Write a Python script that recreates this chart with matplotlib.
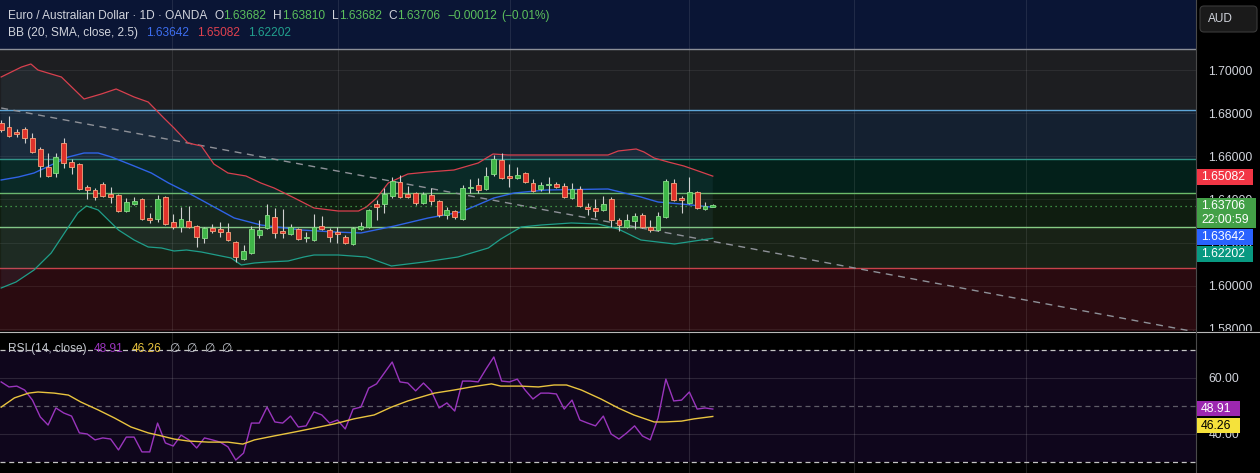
import numpy as np
import matplotlib
matplotlib.use('Agg')
import matplotlib.pyplot as plt
from matplotlib.patches import Rectangle, FancyBboxPatch
from matplotlib.transforms import IdentityTransform

plt.rcParams['font.family'] = ['Liberation Sans', 'DejaVu Sans']

W, H = 1260, 473
AXIS_X = 1196   # left edge of price scale strip (px)
PANE_Y = 331    # bottom of the price pane (px from top)

# ---------------- data ----------------
opens = [1.67544, 1.67359, 1.67127, 1.67266, 1.66849, 1.66339, 1.65506, 1.65227, 1.66617, 1.65737,
         1.65644, 1.64579, 1.64439, 1.64717, 1.64254, 1.64208, 1.63466, 1.63790, 1.64022, 1.63142,
         1.63096, 1.64115, 1.62956, 1.62725, 1.63003, 1.62771, 1.62215, 1.62678, 1.62632, 1.62493,
         1.62029, 1.61242, 1.61520, 1.62354, 1.62678, 1.63188, 1.62539, 1.62400, 1.62632, 1.62215,
         1.62122, 1.62771, 1.62586, 1.62493, 1.62261, 1.61937, 1.62632, 1.62725, 1.63790, 1.63790,
         1.64161, 1.64810, 1.64254, 1.64300, 1.63837, 1.64208, 1.63929, 1.63281, 1.63466, 1.63096,
         1.64532, 1.64671, 1.64486, 1.65181, 1.65830, 1.65088, 1.64995, 1.65227, 1.64764, 1.64486,
         1.64671, 1.64717, 1.64625, 1.64068, 1.64486, 1.63652, 1.63605, 1.63513, 1.64022, 1.63049,
         1.62725, 1.63003, 1.63281, 1.62725, 1.62586, 1.63188, 1.64764, 1.64068, 1.63837, 1.64346,
         1.63559, 1.63682]
highs = [1.67683, 1.67869, 1.67266, 1.67359, 1.67081, 1.66432, 1.66154, 1.66154, 1.66849, 1.65876,
         1.65691, 1.64671, 1.64532, 1.64810, 1.64579, 1.64254, 1.64068, 1.64115, 1.64068, 1.63374,
         1.64208, 1.64161, 1.63327, 1.63652, 1.63698, 1.62818, 1.62725, 1.62864, 1.62956, 1.62910,
         1.62076, 1.61890, 1.62771, 1.63049, 1.63790, 1.63605, 1.63559, 1.62864, 1.62678, 1.62493,
         1.63327, 1.63235, 1.62678, 1.62725, 1.62354, 1.62725, 1.62956, 1.63559, 1.63976, 1.64532,
         1.65042, 1.65134, 1.64625, 1.64346, 1.64346, 1.64532, 1.63976, 1.63652, 1.63513, 1.64671,
         1.64949, 1.64995, 1.65506, 1.66061, 1.66154, 1.65644, 1.65506, 1.65274, 1.64949, 1.64810,
         1.65042, 1.64810, 1.64764, 1.64764, 1.64625, 1.63837, 1.64022, 1.64161, 1.64115, 1.63142,
         1.63327, 1.63374, 1.63374, 1.63049, 1.63420, 1.64949, 1.64949, 1.64161, 1.65042, 1.64393,
         1.63883, 1.63810]
lows = [1.67127, 1.66896, 1.66896, 1.66617, 1.66154, 1.65042, 1.65042, 1.65042, 1.65459, 1.65181,
        1.64439, 1.64022, 1.63976, 1.64115, 1.63837, 1.63420, 1.63420, 1.63744, 1.63049, 1.62910,
        1.62956, 1.62818, 1.62632, 1.62493, 1.62678, 1.61798, 1.61983, 1.62447, 1.62261, 1.62076,
        1.61103, 1.61196, 1.61474, 1.62215, 1.62632, 1.62215, 1.62215, 1.62354, 1.62122, 1.62029,
        1.62076, 1.62586, 1.62029, 1.61983, 1.61937, 1.61890, 1.62586, 1.62678, 1.63049, 1.63374,
        1.64068, 1.64068, 1.64068, 1.63744, 1.63790, 1.63744, 1.63188, 1.63096, 1.63096, 1.63049,
        1.64300, 1.64300, 1.64439, 1.65088, 1.64949, 1.64579, 1.64949, 1.64764, 1.64346, 1.64393,
        1.64300, 1.64532, 1.64068, 1.64022, 1.63652, 1.63281, 1.63188, 1.63466, 1.62725, 1.62539,
        1.62678, 1.62632, 1.62678, 1.62493, 1.62539, 1.63142, 1.63929, 1.63374, 1.63790, 1.63559,
        1.63513, 1.63682]
closes = [1.67220, 1.66942, 1.67035, 1.66849, 1.66200, 1.65552, 1.65088, 1.65969, 1.65691, 1.65506,
          1.64486, 1.64439, 1.64115, 1.64161, 1.64115, 1.63466, 1.63883, 1.63929, 1.63096, 1.63049,
          1.64022, 1.62864, 1.62725, 1.63096, 1.62725, 1.62261, 1.62678, 1.62539, 1.62493, 1.62122,
          1.61334, 1.61612, 1.62632, 1.62586, 1.63281, 1.62447, 1.62447, 1.62725, 1.62169, 1.62261,
          1.62725, 1.62632, 1.62261, 1.62400, 1.61983, 1.62678, 1.62771, 1.63513, 1.63652, 1.64254,
          1.64856, 1.64115, 1.64115, 1.63837, 1.64254, 1.63929, 1.63281, 1.63513, 1.63188, 1.64532,
          1.64579, 1.64439, 1.65088, 1.65876, 1.64995, 1.64995, 1.65134, 1.64810, 1.64393, 1.64671,
          1.64717, 1.64579, 1.64115, 1.64486, 1.63698, 1.63559, 1.63466, 1.63790, 1.63049, 1.62818,
          1.63049, 1.63235, 1.62725, 1.62586, 1.63235, 1.64856, 1.63976, 1.63976, 1.64346, 1.63605,
          1.63718, 1.63706]

# Bollinger bands, read at bar positions
bb_upper_idx = [0, 2.6, 3.8, 4.7, 6.4, 7.7, 10.6, 12.8, 14.7, 17.0, 18.8, 20.8, 22.1, 23.9, 25.6,
                27.2, 29.0, 31.3, 33.2, 34.9, 37.5, 40.0, 43.1, 45.7, 46.7, 48.0, 49.5, 52.0, 54.6,
                57.9, 61.0, 62.9, 64.8, 69.1, 73.3, 77.6, 78.9, 81.2, 82.2, 83.5, 85.3, 87.3, 89.5, 91.0]
bb_upper = [1.69676, 1.70139, 1.70278, 1.70000, 1.69815, 1.69676, 1.68656, 1.68888, 1.69120, 1.68749,
            1.68517, 1.67776, 1.67313, 1.66617, 1.66478, 1.65644, 1.65227, 1.65088, 1.64764, 1.64532,
            1.64068, 1.63605, 1.63466, 1.63466, 1.63652, 1.64068, 1.64764, 1.65181, 1.65274, 1.65366,
            1.65691, 1.66108, 1.66061, 1.66061, 1.66061, 1.66061, 1.66247, 1.66339, 1.66200, 1.65922,
            1.65737, 1.65552, 1.65274, 1.65082]
bb_mid_idx = [0, 2.2, 4.2, 6.4, 8.6, 10.6, 12.4, 14.1, 17.0, 19.2, 21.4, 23.7, 25.6, 29.8, 33.2,
              38.4, 42.6, 46.0, 50.3, 54.6, 58.8, 63.0, 65.6, 69.7, 77.6, 79.7, 81.8, 84.0, 87.0, 91.0]
bb_mid = [1.64903, 1.65042, 1.65227, 1.65598, 1.65969, 1.66154, 1.66154, 1.65969, 1.65552, 1.65227,
          1.64764, 1.64346, 1.63976, 1.63142, 1.62818, 1.62586, 1.62493, 1.62447, 1.62771, 1.63142,
          1.63420, 1.64068, 1.64300, 1.64439, 1.64486, 1.64300, 1.64115, 1.63883, 1.63790, 1.63642]
bb_lower_idx = [0, 1.9, 4.2, 6.4, 8.6, 9.8, 10.9, 12.4, 13.7, 15.0, 17.0, 18.8, 20.5, 22.1, 23.7,
                25.6, 29.4, 30.7, 32.4, 34.1, 36.7, 38.7, 40.0, 43.1, 46.7, 49.9, 54.1, 58.4, 62.3,
                63.9, 66.5, 69.1, 72.9, 76.3, 78.9, 81.8, 86.1, 91.0]
bb_lower = [1.59898, 1.60176, 1.60732, 1.61520, 1.62725, 1.63374, 1.63698, 1.63513, 1.63049, 1.62586,
            1.62122, 1.61798, 1.61752, 1.61612, 1.61659, 1.61566, 1.61288, 1.60964, 1.61057, 1.61103,
            1.61149, 1.61334, 1.61427, 1.61427, 1.61334, 1.60917, 1.61103, 1.61334, 1.61752, 1.62169,
            1.62725, 1.62818, 1.62910, 1.62864, 1.62632, 1.62122, 1.61937, 1.62202]

rsi = [58.6, 56.8, 57.1, 55.7, 52.1, 46.1, 43.2, 49.3, 47.5, 46.4,
       40.4, 40.0, 37.9, 38.6, 38.2, 34.3, 38.9, 38.9, 33.6, 33.6,
       43.9, 36.8, 35.7, 39.6, 37.9, 35.0, 38.6, 37.9, 37.1, 35.4,
       30.7, 33.2, 43.9, 43.9, 49.6, 44.3, 43.9, 46.4, 42.5, 42.9,
       47.9, 46.8, 43.9, 45.0, 41.8, 48.9, 49.6, 56.4, 57.9, 61.8,
       65.7, 58.6, 58.2, 55.4, 58.2, 55.4, 49.3, 51.1, 48.2, 58.9,
       58.9, 58.6, 63.2, 67.5, 58.9, 58.6, 59.6, 55.7, 52.5, 54.6,
       54.6, 54.3, 48.9, 52.1, 45.0, 43.9, 42.9, 46.4, 40.0, 38.2,
       40.4, 42.9, 39.3, 37.9, 45.7, 59.6, 51.8, 52.1, 55.0, 48.9,
       49.3, 48.91]
rsi_ma_idx = [0, 1.7, 3.5, 4.7, 6.8, 8.6, 10.2, 12.4, 14.5, 16.6, 18.8, 20.5, 22.1, 23.9, 26.5,
              29.0, 30.9, 32.4, 34.9, 37.5, 40.0, 42.6, 45.1, 47.7, 49.9, 52.0, 53.7, 55.4, 57.9,
              60.1, 62.7, 63.9, 66.5, 68.7, 70.7, 72.3, 74.2, 76.7, 78.9, 80.9, 83.5, 84.8, 87.0,
              88.6, 91.0]
rsi_ma = [49.6, 52.9, 54.6, 55.0, 54.6, 53.9, 51.4, 48.6, 45.7, 42.5, 40.4, 39.3, 38.2, 37.5, 37.1,
          37.1, 36.4, 37.9, 39.3, 40.7, 42.1, 43.6, 45.4, 46.8, 49.6, 51.8, 53.2, 54.6, 55.7, 56.8,
          57.9, 57.1, 57.1, 56.8, 57.5, 57.5, 55.7, 52.5, 49.3, 46.8, 44.3, 44.3, 44.6, 45.4, 46.26]

# drawings on the chart
zone_edges = [1.60825, 1.62725, 1.64300, 1.65876, 1.68147, 1.70973]
zone_fills = ['#2a0b10', '#182216', '#0f1d10', '#03201a', '#142030', '#1d1e21', '#0a1535']
zone_lines = ['#c8424b', '#86cc84', '#6cbb6a', '#2f9485', '#5ea6d8', '#8c8f98']
trend_idx = [0, 152.8]
trend_px = [1.68239, 1.57859]
month_idx = [21.9, 43.1, 65.1, 88.0, 109.1, 131.1]
price_ticks = [1.58, 1.60, 1.62, 1.64, 1.66, 1.68, 1.70]
rsi_ticks = [40, 60]
timer = '22:00:59'

# ---------------- figure ----------------
fig = plt.figure(figsize=(W / 100, H / 100), dpi=100, facecolor='#000000')
ax = fig.add_axes([0, (H - PANE_Y) / H, AXIS_X / W, PANE_Y / H], zorder=0)
rax = fig.add_axes([0, 0, AXIS_X / W, (H - PANE_Y - 2) / H], zorder=2)

BAR_PX = 7.82
xlim = (-0.15, AXIS_X / BAR_PX - 0.15)

# price pane
ax.set_facecolor('#000000')
ax.set_xlim(*xlim)
ax.set_ylim(1.57905, 1.73244)
lims = [ax.get_ylim()[0]] + zone_edges + [ax.get_ylim()[1]]
for lo, hi, c in zip(lims[:-1], lims[1:], zone_fills):
    ax.axhspan(lo, hi, color=c, lw=0, zorder=0.2)
for p in price_ticks:
    ax.axhline(p, color='#ffffff', alpha=0.07, lw=0.8, zorder=0.5)
for m in month_idx:
    ax.axvline(m, color='#ffffff', alpha=0.09, lw=0.8, zorder=0.5)
for e, c in zip(zone_edges, zone_lines):
    ax.axhline(e, color=c, lw=1.0, zorder=1)

ax.fill(np.r_[bb_upper_idx, bb_lower_idx[::-1]], np.r_[bb_upper, bb_lower[::-1]],
        color='#5b8fb0', alpha=0.09, lw=0, zorder=1.5)
ax.plot(trend_idx, trend_px, color='#8e9198', lw=1.0, ls=(0, (5, 4)), zorder=2)
ax.plot(bb_upper_idx, bb_upper, color='#d8404e', lw=0.9, zorder=3)
ax.plot(bb_mid_idx, bb_mid, color='#2f63e6', lw=1.0, zorder=3)
ax.plot(bb_lower_idx, bb_lower, color='#1f9e8a', lw=0.9, zorder=3)
ax.axhline(closes[-1], color='#4caf50', lw=0.9, ls=(0, (1, 3)), zorder=3.5)

o, h, l, c = map(np.array, (opens, highs, lows, closes))
x = np.arange(len(c))
up = c >= o
real = np.abs(c - o)
bh = np.maximum(real, 0.0006)
bottom = np.minimum(o, c) - (bh - real) / 2
ax.vlines(x, l, h, color='#cfcfcf', lw=0.8, zorder=4)
ax.bar(x[up], bh[up], bottom=bottom[up], width=0.62, color='#3fb548', edgecolor='#86dc86', lw=0.6, zorder=5)
ax.bar(x[~up], bh[~up], bottom=bottom[~up], width=0.62, color='#e0322b', edgecolor='#f6a57e', lw=0.6, zorder=5)

ax.set_xticks([])
ax.set_yticks(price_ticks)
ax.set_yticklabels(['%.5f' % p for p in price_ticks])
ax.yaxis.tick_right()
ax.tick_params(axis='y', length=0, pad=9, labelsize=8.8, labelcolor='#d1d4dc')
for s in ax.spines.values():
    s.set_visible(False)

# rsi pane
rax.set_facecolor('#000000')
rax.set_xlim(*xlim)
rax.set_ylim(26.07, 76.07)
rax.axhspan(30, 70, color='#0f061c', lw=0, zorder=0.2)
for t in rsi_ticks:
    rax.axhline(t, color='#ffffff', alpha=0.12, lw=0.8, zorder=0.5)
for m in month_idx:
    rax.axvline(m, color='#ffffff', alpha=0.12, lw=0.8, zorder=0.5)
rax.axhline(70, color='#c4c4c4', lw=0.9, ls=(0, (4, 3)), zorder=1)
rax.axhline(30, color='#c4c4c4', lw=0.9, ls=(0, (4, 3)), zorder=1)
rax.axhline(50, color='#5e5b66', lw=0.9, ls=(0, (4, 3)), zorder=1)
rax.plot(np.arange(len(rsi)), rsi, color='#9a35bd', lw=1.0, zorder=3)
rax.plot(rsi_ma_idx, rsi_ma, color='#e9c43f', lw=1.0, zorder=3)
rax.set_xticks([])
rax.set_yticks(rsi_ticks)
rax.set_yticklabels(['%.2f' % t for t in rsi_ticks])
rax.yaxis.tick_right()
rax.tick_params(axis='y', length=0, pad=9, labelsize=8.8, labelcolor='#d1d4dc')
for s in rax.spines.values():
    s.set_visible(False)

# cover the price-scale strip under the price pane so 1.58000 is cut like the original
fig.add_artist(Rectangle((AXIS_X, 0), W - AXIS_X, H - PANE_Y, transform=IdentityTransform(),
                         fc='#000000', ec='none', zorder=1))

# separators
fig.add_artist(plt.Line2D([0, W], [H - PANE_Y - 0.5] * 2, transform=IdentityTransform(),
                          color='#b8b8b8', lw=0.8, zorder=6))
fig.add_artist(plt.Line2D([AXIS_X, AXIS_X], [0, H], transform=IdentityTransform(),
                          color='#4a4a4a', lw=0.8, zorder=6))


def tag(axis, value, label, fc, tc='#ffffff', dy=0, w=56, h=16):
    # price-scale label box, dy in px (down positive)
    yd = axis.transData.transform((0, value))[1] - dy
    top = yd + 8
    fig.add_artist(Rectangle((AXIS_X + 1, top - h), w, h, transform=IdentityTransform(),
                             fc=fc, ec='none', zorder=7))
    for k, s in enumerate(label.split('\n')):
        fig.text(AXIS_X + 5, top - 8 - 14 * k, s, transform=IdentityTransform(), color=tc,
                 fontsize=8.8, va='center', ha='left', zorder=8)


tag(ax, bb_upper[-1], '%.5f' % bb_upper[-1], '#f23645', dy=1)
tag(ax, closes[-1], '%.5f\n%s' % (closes[-1], timer), '#43a047', dy=0, w=59, h=30)
tag(ax, bb_mid[-1], '%.5f' % bb_mid[-1], '#2962ff', dy=30)
tag(ax, bb_lower[-1], '%.5f' % bb_lower[-1], '#089981', dy=16)
tag(rax, rsi[-1], '%.2f' % rsi[-1], '#9c27b0', dy=0, w=43, h=15)
tag(rax, rsi_ma[-1], '%.2f' % rsi_ma[-1], '#f5e23b', tc='#000000', dy=10, w=43, h=15)

# currency box
fig.add_artist(FancyBboxPatch((AXIS_X + 4, H - 32), 57, 26, boxstyle='round,pad=0,rounding_size=4',
                              transform=IdentityTransform(), fc='#1a1a1a', ec='#3a3a3a', lw=0.8, zorder=7))
fig.text(AXIS_X + 12, H - 19, 'AUD', transform=IdentityTransform(), color='#d1d4dc',
         fontsize=8.5, va='center', ha='left', zorder=8)

renderer = fig.canvas.get_renderer()


def row(yp, pieces, xp=8, size=8.6):
    # legend row: each piece is (gap before it in px, text, colour)
    for gap, s, col in pieces:
        xp += gap
        t = fig.text(xp / W, 1 - yp / H, s, color=col, fontsize=size, va='center', ha='left', zorder=9)
        xp = t.get_window_extent(renderer).x1


grey = '#d1d4dc'
green = '#5cbf5c'
chg = closes[-1] - closes[-2]
pct = chg / closes[-2] * 100
row(16, [(0, 'Euro / Australian Dollar \u00b7 1D \u00b7 OANDA', grey),
         (7, 'O', grey), (0, '%.5f' % opens[-1], green),
         (7, 'H', grey), (0, '%.5f' % highs[-1], green),
         (7, 'L', grey), (0, '%.5f' % lows[-1], green),
         (7, 'C', grey), (0, '%.5f' % closes[-1], green),
         (7, ('%+.5f' % chg).replace('-', '\u2212'), green),
         (4, ('(%+.2f%%)' % pct).replace('-', '\u2212'), green)])
row(33, [(0, 'BB (20, SMA, close, 2.5)', grey),
         (8, '%.5f' % bb_mid[-1], '#3d6ef0'),
         (8, '%.5f' % bb_upper[-1], '#e0414f'),
         (8, '%.5f' % bb_lower[-1], '#22a08e')])
row(349, [(0, 'RSI (14, close)', '#c3c6ce'),
          (7, '%.2f' % rsi[-1], '#9a35bd'),
          (8, '%.2f' % rsi_ma[-1], '#e9c43f'),
          (8, '\u2205', '#c3c6ce'), (7, '\u2205', '#c3c6ce'),
          (7, '\u2205', '#c3c6ce'), (7, '\u2205', '#c3c6ce')])

fig.savefig('out.png', dpi=100, facecolor=fig.get_facecolor())
